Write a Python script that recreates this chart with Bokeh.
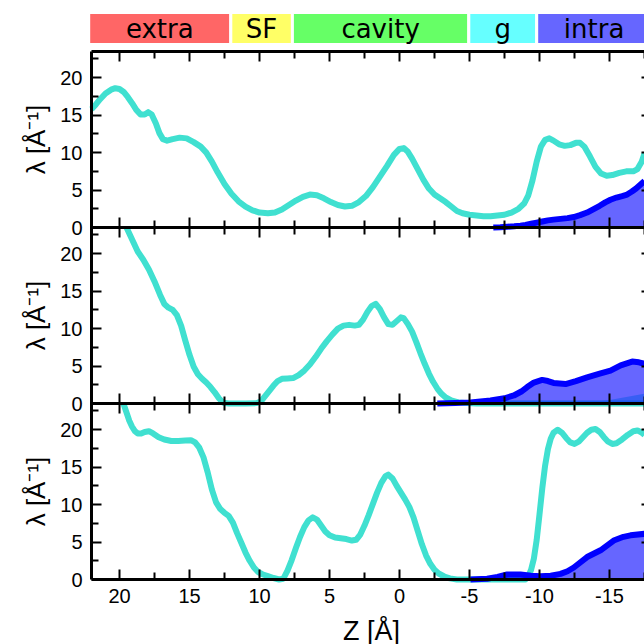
import math

from bokeh.core.properties import value
from bokeh.embed import file_html
from bokeh.models import FixedTicker, Label, LinearAxis, Range1d
from bokeh.plotting import figure
from bokeh.resources import INLINE

# ---------------------------------------------------------------- data
# Regions along the pore axis
region_names = ["extra", "SF", "cavity", "g", "intra"]
region_left = [22.2, 12.05, 7.65, -4.95, -9.8]
region_right = [12.05, 7.65, -4.95, -9.8, -18.0]
region_colors = ["red", "yellow", "lime", "cyan", "blue"]

# Axis ticks
x_ticks = [20, 15, 10, 5, 0, -5, -10, -15]
x_tick_labels = ["20", "15", "10", "5", "0", "-5", "-10", "-15"]
x_minor = [17.5, 12.5, 7.5, 2.5, -2.5, -7.5, -12.5, -17.5]
y_ticks = [0, 5, 10, 15, 20]
y_tick_labels = ["0", "5", "10", "15", "20"]
y_minor = [2.5, 7.5, 12.5, 17.5, 22.5]

# Panel 1 (top)
top_z = [22.0, 21.7, 21.4, 21.0, 20.6, 20.3, 20.0, 19.7, 19.4, 19.1, 18.8,
         18.5, 18.2, 17.95, 17.7, 17.4, 17.15, 16.9, 16.6, 16.2, 15.7, 15.2,
         14.7, 14.2, 13.8, 13.4, 13.0, 12.5, 12.0, 11.5, 11.0, 10.5, 10.0,
         9.4, 8.9, 8.4, 7.9, 7.4, 6.9, 6.4, 5.9, 5.4, 4.9, 4.4, 3.9, 3.4,
         2.9, 2.4, 1.9, 1.4, 0.9, 0.4, 0.0, -0.3, -0.6, -0.9, -1.3, -1.7,
         -2.1, -2.5, -2.9, -3.3, -3.7, -4.1, -4.5, -5.0, -5.5, -6.0, -6.5,
         -7.0, -7.5, -8.0, -8.5, -8.9, -9.2, -9.5, -9.8, -10.1, -10.4, -10.7,
         -11.0, -11.4, -11.8, -12.2, -12.6, -12.9, -13.2, -13.6, -14.0,
         -14.4, -14.8, -15.2, -15.7, -16.2, -16.7, -17.0, -17.3, -17.5]
top_lam = [15.8, 16.4, 17.1, 17.9, 18.4, 18.6, 18.5, 18.1, 17.4, 16.6, 15.7,
           15.1, 15.1, 15.4, 15.1, 13.9, 12.6, 11.8, 11.6, 11.8, 12.0, 11.9,
           11.4, 10.8, 10.0, 8.8, 7.4, 5.8, 4.5, 3.5, 2.8, 2.3, 2.0,
           1.9, 2.0, 2.4, 3.0, 3.6, 4.1, 4.4, 4.3, 3.9, 3.4, 3.0, 2.8, 2.9,
           3.4, 4.2, 5.4, 6.8, 8.2, 9.7, 10.5, 10.6, 10.1, 9.2, 7.8, 6.4,
           5.2, 4.4, 3.9, 3.4, 2.8, 2.2, 1.9, 1.7, 1.6, 1.5, 1.5,
           1.6, 1.7, 2.0, 2.5, 3.2, 4.3, 6.3, 8.8, 10.8, 11.7, 11.9,
           11.6, 11.1, 10.9, 11.0, 11.3, 11.3, 10.8, 9.5, 8.1,
           7.2, 6.9, 7.0, 7.3, 7.5, 7.5, 7.8, 8.8, 9.9]
top_ion_z = [-6.7, -7.2, -7.7, -8.2, -8.64, -9.0, -9.4, -9.8, -10.2, -10.6,
             -11.0, -11.5, -12.0, -12.45, -12.9, -13.4, -13.9, -14.3, -14.7,
             -15.07, -15.5, -15.9, -16.26, -16.6, -16.9, -17.2, -17.5]
top_ion = [0.0, 0.03, 0.1, 0.17, 0.25, 0.35, 0.5, 0.65, 0.8, 0.95,
           1.05, 1.15, 1.25, 1.4, 1.65, 2.0, 2.5, 2.9, 3.35,
           3.7, 4.0, 4.2, 4.4, 4.8, 5.2, 5.7, 6.2]

# Panel 2 (middle)
mid_z = [19.5, 19.1, 18.7, 18.3, 17.9, 17.5, 17.1, 16.8, 16.5, 16.2, 15.9,
         15.6, 15.3, 15.0, 14.7, 14.4, 14.1, 13.8, 13.5, 13.2, 12.9, 12.6,
         12.2, 11.0, 10.2, 9.9, 9.6, 9.3, 9.0, 8.7, 8.4, 8.0, 7.6, 7.2,
         6.8, 6.4, 6.0, 5.6, 5.2, 4.8, 4.4, 4.0, 3.6, 3.2, 2.9, 2.6, 2.3,
         2.0, 1.7, 1.4, 1.1, 0.8, 0.5, 0.2, -0.1, -0.3, -0.6, -0.9, -1.2,
         -1.5, -1.8, -2.1, -2.4, -2.7, -3.0, -3.3, -3.7, -4.2, -4.8, -5.5,
         -10.0, -14.0, -17.5]
mid_lam = [23.5, 21.9, 20.3, 19.2, 17.9, 16.3, 14.5, 13.3, 12.8, 12.5, 11.8,
           10.4, 8.4, 6.5, 4.9, 3.9, 3.3, 2.8, 2.2, 1.5, 0.7, 0.1,
           0.0, 0.0, 0.05, 0.3, 1.0, 1.7, 2.4, 3.0, 3.3, 3.35, 3.4, 3.8,
           4.4, 5.2, 6.2, 7.3, 8.3, 9.2, 10.0, 10.4, 10.5, 10.4, 10.5, 11.2,
           12.2, 13.0, 13.3, 12.6, 11.5, 10.6, 10.5, 11.0, 11.5, 11.4, 10.6,
           9.6, 8.2, 6.7, 5.3, 4.0, 2.9, 2.0, 1.3, 0.8, 0.4, 0.15, 0.05,
           0.0, 0.0, 0.0, 0.0]
mid_low_z = [-12.0, -13.4, -14.8, -16.0, -17.5]
mid_low = [0.0, 0.15, 0.4, 0.8, 1.3]
mid_ion_z = [-2.7, -4.0, -5.07, -6.5, -7.5, -8.17, -8.7, -9.12, -9.6,
             -10.19, -10.6, -11.0, -11.86, -12.6, -13.4, -14.3, -15.07,
             -15.8, -16.62, -17.1, -17.5]
mid_ion = [0.0, 0.08, 0.15, 0.4, 0.7, 1.07, 1.6, 2.2, 2.8,
           3.15, 3.0, 2.75, 2.6, 3.0, 3.5, 4.0, 4.4,
           5.1, 5.6, 5.5, 5.3]

# Panel 3 (bottom)
bot_z = [19.72, 19.5, 19.3, 19.1, 18.9, 18.7, 18.45, 18.2, 17.9, 17.6, 17.2,
         16.8, 16.3, 15.8, 15.3, 14.9, 14.6, 14.3, 14.0, 13.7, 13.4, 13.1,
         12.8, 12.5, 12.2, 11.9, 11.6, 11.3, 11.0, 10.7, 10.4, 10.1, 9.8,
         9.4, 9.0, 8.6, 8.3, 8.0, 7.7, 7.4, 7.1, 6.8, 6.5, 6.2, 5.9, 5.6,
         5.3, 5.0, 4.6, 4.2, 3.8, 3.4, 3.1, 2.8, 2.5, 2.2, 1.9, 1.6, 1.3,
         1.0, 0.8, 0.5, 0.2, -0.1, -0.4, -0.7, -1.0, -1.3, -1.6, -1.9,
         -2.2, -2.5, -2.8, -3.2, -3.6, -4.1, -9.0, -9.2, -9.4, -9.6, -9.8,
         -10.0, -10.2, -10.4, -10.6, -10.8, -11.0, -11.3, -11.6, -11.9,
         -12.2, -12.5, -12.8, -13.1, -13.4, -13.7, -14.0, -14.3, -14.6,
         -14.9, -15.2, -15.5, -15.9, -16.3, -16.7, -17.0, -17.3, -17.5]
bot_lam = [23.5, 22.3, 21.2, 20.4, 19.8, 19.5, 19.5, 19.7, 19.8, 19.5, 19.0,
           18.7, 18.5, 18.5, 18.55, 18.6, 18.3, 17.6, 16.3, 14.3, 12.0, 10.3,
           9.4, 8.9, 8.5, 7.6, 6.2, 4.9, 3.6, 2.5, 1.6, 1.0, 0.7,
           0.45, 0.2, 0.0, 0.1, 1.2, 2.6, 4.2, 5.7, 7.0, 7.9, 8.3, 8.0, 7.2,
           6.4, 5.9, 5.6, 5.5, 5.4, 5.2, 5.3, 6.0, 7.2, 8.6, 10.1, 11.6, 12.9,
           13.8, 14.0, 13.5, 12.5, 11.6, 10.7, 9.7, 8.3, 6.5, 4.7, 3.2,
           2.1, 1.3, 0.8, 0.4, 0.15, 0.0, 0.0, 0.4, 1.3, 2.8, 5.3,
           8.7, 12.2, 15.2, 17.4, 18.8, 19.6, 20.0, 19.6, 18.9,
           18.3, 18.1, 18.4, 19.0, 19.6, 20.0, 20.1, 19.7, 19.0,
           18.4, 18.1, 18.2, 18.7, 19.3, 19.8, 19.9, 19.6, 19.3]
bot_ion_z = [-5.07, -6.26, -7.0, -7.69, -8.64, -9.4, -10.07, -10.8, -11.5,
             -12.0, -12.45, -13.4, -14.36, -15.3, -16.0, -16.5, -17.5]
bot_ion = [0.0, 0.1, 0.35, 0.67, 0.67, 0.5, 0.45, 0.5, 0.75,
           1.1, 1.6, 3.0, 3.9, 5.2, 5.7, 5.9, 6.1]

# ---------------------------------------------------------------- layout
# The frame fills the whole canvas; axes are pinned inside it so that the
# tick labels and titles around the stacked panels stay visible.
TURQ = "#40E0D0"
ION = "blue"
FONT = "Liberation Sans"
SIZE = 644
PANEL = 23.5                 # lambda span of each panel
X_LEFT = 22.0                # left frame edge (Z)
X_EDGE = -18.0               # right frame edge (Z), just past the canvas
PX_X = 14.0                  # pixels per Angstrom
PX_Y = 176.0 / PANEL         # pixels per lambda unit
LEFT_PX, BOTTOM_PX = 91, 65  # room for labels left of / below the panels
STRIP_TOP_PX, STRIP_PX = 12, 32

x_lo = X_LEFT + LEFT_PX / PX_X
x_hi = x_lo - SIZE / PX_X
y_lo = -BOTTOM_PX / PX_Y
y_hi = y_lo + SIZE / PX_Y
strip_hi = 1 + STRIP_TOP_PX / STRIP_PX
strip_lo = strip_hi - SIZE / STRIP_PX

p = figure(width=SIZE, height=SIZE,
           x_range=Range1d(x_lo, x_hi), y_range=Range1d(y_lo, y_hi),
           extra_y_ranges={
               "p1": Range1d(y_lo - 2 * PANEL, y_hi - 2 * PANEL),
               "p2": Range1d(y_lo - PANEL, y_hi - PANEL),
               "strip": Range1d(strip_lo, strip_hi),
           },
           output_backend="svg", toolbar_location=None,
           x_axis_location=None, y_axis_location=None,
           min_border=0, outline_line_color=None)
p.grid.visible = False


def style_ticks(ax, tin, tout, mtin, mtout):
    ax.major_tick_in = tin
    ax.major_tick_out = tout
    ax.minor_tick_in = mtin
    ax.minor_tick_out = mtout
    ax.major_tick_line_width = 2
    ax.minor_tick_line_width = 2
    ax.major_tick_line_color = "black"
    ax.minor_tick_line_color = "black"
    ax.axis_line_width = 3
    ax.axis_line_color = "black"


x_bounds = (X_EDGE, X_LEFT)

# bottom axis with tick labels
xb = LinearAxis(ticker=FixedTicker(ticks=x_ticks, minor_ticks=x_minor),
                fixed_location=0, bounds=x_bounds)
xb.major_label_overrides = {float(t): s for t, s in zip(x_ticks, x_tick_labels)}
style_ticks(xb, 10, 0, 7, 0)
xb.major_label_text_font = FONT
xb.major_label_text_font_size = "20px"
xb.major_label_text_color = "black"
xb.major_label_standoff = 9
p.add_layout(xb, "below")

# top edge and the two panel separators (ticks only)
for loc, both, side in [(3 * PANEL, False, "above"), (2 * PANEL, True, "below"),
                        (PANEL, True, "below")]:
    ax = LinearAxis(ticker=FixedTicker(ticks=x_ticks, minor_ticks=x_minor),
                    fixed_location=loc, bounds=x_bounds,
                    major_label_text_color=None)
    style_ticks(ax, 10, 10 if both else 0, 7, 7 if both else 0)
    p.add_layout(ax, side)

# one left axis carries the ticks of all three panels
stack_ticks, stack_labels, stack_minor = [], [], []
for off in [0.0, PANEL, 2 * PANEL]:
    stack_ticks += [t + off for t in y_ticks]
    stack_labels += y_tick_labels
    stack_minor += [t + off for t in y_minor]

yl = LinearAxis(ticker=FixedTicker(ticks=stack_ticks, minor_ticks=stack_minor),
                fixed_location=X_LEFT, bounds=(0, 3 * PANEL))
yl.major_label_overrides = dict(zip(stack_ticks, stack_labels))
style_ticks(yl, 10, 0, 7, 0)
yl.major_label_text_font = FONT
yl.major_label_text_font_size = "20px"
yl.major_label_text_color = "black"
yl.major_label_standoff = 9
p.add_layout(yl, "left")

yr = LinearAxis(ticker=FixedTicker(ticks=stack_ticks, minor_ticks=stack_minor),
                fixed_location=X_EDGE, bounds=(0, 3 * PANEL),
                major_label_text_color=None)
style_ticks(yr, 10, 0, 7, 0)
p.add_layout(yr, "right")

# axis titles
for rng in ["p1", "p2", "default"]:
    p.add_layout(Label(x=X_LEFT + 56 / PX_X, y=PANEL / 2, y_range_name=rng,
                       text="λ [Å⁻¹]", angle=math.pi / 2,
                       text_align="center", text_baseline="middle",
                       text_font=FONT, text_font_size="26px",
                       text_color="black"))
p.add_layout(Label(x=(X_LEFT + X_EDGE) / 2, y=-51 / PX_Y, text="Z [Å]",
                   text_align="center", text_baseline="middle",
                   text_font=FONT, text_font_size="27px", text_color="black"))

# region strip
p.quad(left=region_left, right=region_right, bottom=0, top=1,
       y_range_name="strip", fill_color=region_colors, fill_alpha=0.6,
       line_color="white", line_width=3)
p.text(x=[(a + b) / 2 for a, b in zip(region_left, region_right)],
       y=[0.5] * len(region_names), text=region_names, y_range_name="strip",
       text_align="center", text_baseline="middle",
       text_font=value("DejaVu Sans"), text_font_size="26px",
       text_color="black")

# curves
panels = [
    ("p1", top_z, top_lam, top_ion_z, top_ion),
    ("p2", mid_z, mid_lam, mid_ion_z, mid_ion),
    ("default", bot_z, bot_lam, bot_ion_z, bot_ion),
]
for rng, z, lam, iz, ion in panels:
    p.line(z, lam, y_range_name=rng, line_color=TURQ, line_width=6,
           line_join="round")
    if rng == "p2":
        p.varea(x=mid_low_z, y1=0, y2=mid_low, y_range_name=rng,
                fill_color=TURQ, fill_alpha=0.6)
    p.varea(x=iz, y1=0, y2=ion, y_range_name=rng,
            fill_color=ION, fill_alpha=0.6)
    p.line(iz, ion, y_range_name=rng, line_color=ION, line_width=6,
           line_join="round")

open("out.html", "w").write(file_html(p, INLINE))
